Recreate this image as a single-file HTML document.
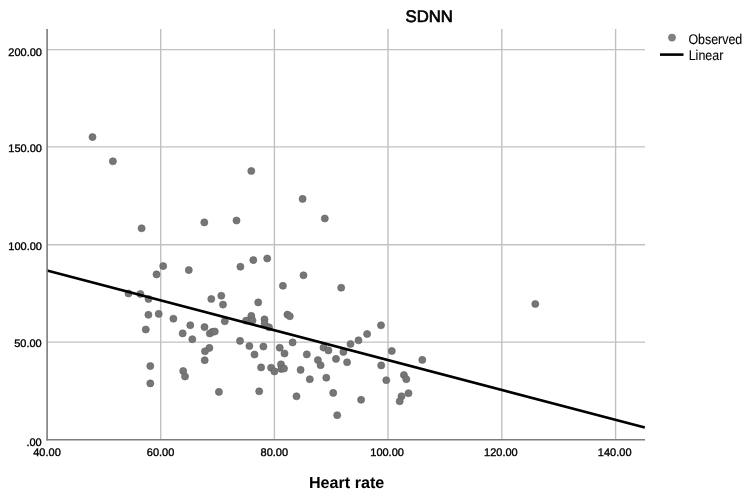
<!DOCTYPE html>
<html><head><meta charset="utf-8"><title>SDNN</title>
<style>html,body{margin:0;padding:0;background:#fff}svg{display:block;text-rendering:geometricPrecision}text{font-family:"Liberation Sans",sans-serif;fill:#000}</style></head><body>
<svg width="750" height="496" viewBox="0 0 750 496">
<rect width="750" height="496" fill="#fff"/>
<g stroke="#c1c1c1" stroke-width="1.4" fill="none">
<line x1="160.7" y1="29" x2="160.7" y2="439.7"/><line x1="274.4" y1="29" x2="274.4" y2="439.7"/><line x1="388.0" y1="29" x2="388.0" y2="439.7"/><line x1="501.8" y1="29" x2="501.8" y2="439.7"/><line x1="615.6" y1="29" x2="615.6" y2="439.7"/><line x1="47" y1="49.6" x2="645" y2="49.6"/><line x1="47" y1="146.9" x2="645" y2="146.9"/><line x1="47" y1="244.8" x2="645" y2="244.8"/><line x1="47" y1="342.1" x2="645" y2="342.1"/>
</g>
<g fill="#767676" stroke="#636363" stroke-width="0.6">
<circle cx="92.5" cy="137.1" r="3.55"/><circle cx="112.9" cy="161.3" r="3.55"/><circle cx="141.6" cy="228.3" r="3.55"/><circle cx="204.3" cy="222.4" r="3.55"/><circle cx="236.5" cy="220.5" r="3.55"/><circle cx="163.2" cy="266.1" r="3.55"/><circle cx="156.5" cy="274.4" r="3.55"/><circle cx="188.8" cy="270.1" r="3.55"/><circle cx="240.4" cy="266.7" r="3.55"/><circle cx="253.3" cy="260.1" r="3.55"/><circle cx="267.2" cy="258.5" r="3.55"/><circle cx="128.5" cy="293.5" r="3.55"/><circle cx="140.4" cy="294.0" r="3.55"/><circle cx="148.5" cy="299.0" r="3.55"/><circle cx="211.3" cy="299.0" r="3.55"/><circle cx="221.3" cy="295.7" r="3.55"/><circle cx="223.0" cy="304.6" r="3.55"/><circle cx="258.2" cy="302.4" r="3.55"/><circle cx="148.4" cy="314.8" r="3.55"/><circle cx="158.7" cy="313.9" r="3.55"/><circle cx="173.4" cy="318.7" r="3.55"/><circle cx="145.8" cy="329.5" r="3.55"/><circle cx="190.3" cy="325.2" r="3.55"/><circle cx="182.7" cy="333.4" r="3.55"/><circle cx="192.3" cy="339.2" r="3.55"/><circle cx="204.5" cy="327.1" r="3.55"/><circle cx="209.8" cy="333.5" r="3.55"/><circle cx="212.3" cy="331.9" r="3.55"/><circle cx="214.8" cy="331.5" r="3.55"/><circle cx="224.8" cy="321.3" r="3.55"/><circle cx="240.0" cy="340.9" r="3.55"/><circle cx="209.4" cy="347.9" r="3.55"/><circle cx="205.0" cy="351.3" r="3.55"/><circle cx="204.7" cy="360.2" r="3.55"/><circle cx="150.3" cy="366.1" r="3.55"/><circle cx="183.2" cy="371.0" r="3.55"/><circle cx="185.0" cy="376.5" r="3.55"/><circle cx="150.3" cy="383.4" r="3.55"/><circle cx="218.9" cy="391.9" r="3.55"/><circle cx="251.3" cy="171.0" r="3.55"/><circle cx="302.6" cy="198.9" r="3.55"/><circle cx="324.8" cy="218.5" r="3.55"/><circle cx="303.5" cy="275.3" r="3.55"/><circle cx="282.9" cy="285.8" r="3.55"/><circle cx="341.2" cy="287.7" r="3.55"/><circle cx="287.4" cy="314.6" r="3.55"/><circle cx="289.8" cy="316.2" r="3.55"/><circle cx="251.3" cy="315.9" r="3.55"/><circle cx="246.1" cy="320.6" r="3.55"/><circle cx="252.5" cy="320.4" r="3.55"/><circle cx="264.5" cy="319.4" r="3.55"/><circle cx="264.6" cy="323.5" r="3.55"/><circle cx="269.0" cy="327.3" r="3.55"/><circle cx="249.4" cy="346.0" r="3.55"/><circle cx="254.5" cy="354.5" r="3.55"/><circle cx="263.4" cy="346.5" r="3.55"/><circle cx="279.7" cy="347.7" r="3.55"/><circle cx="284.5" cy="353.5" r="3.55"/><circle cx="292.6" cy="342.4" r="3.55"/><circle cx="306.8" cy="354.4" r="3.55"/><circle cx="261.1" cy="367.4" r="3.55"/><circle cx="271.1" cy="367.7" r="3.55"/><circle cx="274.4" cy="371.4" r="3.55"/><circle cx="281.0" cy="364.4" r="3.55"/><circle cx="281.3" cy="369.0" r="3.55"/><circle cx="284.0" cy="368.5" r="3.55"/><circle cx="300.6" cy="369.9" r="3.55"/><circle cx="317.9" cy="360.1" r="3.55"/><circle cx="320.6" cy="365.2" r="3.55"/><circle cx="323.5" cy="347.6" r="3.55"/><circle cx="328.4" cy="350.4" r="3.55"/><circle cx="336.0" cy="358.9" r="3.55"/><circle cx="343.4" cy="351.9" r="3.55"/><circle cx="350.5" cy="344.0" r="3.55"/><circle cx="347.1" cy="362.3" r="3.55"/><circle cx="309.8" cy="379.2" r="3.55"/><circle cx="326.3" cy="377.7" r="3.55"/><circle cx="259.2" cy="391.3" r="3.55"/><circle cx="296.5" cy="396.3" r="3.55"/><circle cx="333.2" cy="392.9" r="3.55"/><circle cx="337.2" cy="415.2" r="3.55"/><circle cx="381.0" cy="325.3" r="3.55"/><circle cx="367.1" cy="334.0" r="3.55"/><circle cx="358.5" cy="340.3" r="3.55"/><circle cx="391.8" cy="351.0" r="3.55"/><circle cx="381.2" cy="365.4" r="3.55"/><circle cx="422.3" cy="359.9" r="3.55"/><circle cx="386.3" cy="380.2" r="3.55"/><circle cx="403.9" cy="375.0" r="3.55"/><circle cx="406.3" cy="379.2" r="3.55"/><circle cx="408.5" cy="393.2" r="3.55"/><circle cx="401.5" cy="396.3" r="3.55"/><circle cx="399.7" cy="401.3" r="3.55"/><circle cx="361.1" cy="399.8" r="3.55"/><circle cx="535.3" cy="304.0" r="3.55"/>
</g>
<line x1="47" y1="270.5" x2="644.8" y2="427.6" stroke="#000" stroke-width="2.6"/>
<g stroke="#7c7c7c" stroke-width="1.6" fill="none"><line x1="47.1" y1="29" x2="47.1" y2="440.5"/><line x1="46.3" y1="439.7" x2="645" y2="439.7"/></g>
<g font-size="11" text-anchor="middle" stroke="#000" stroke-width="0.35">
<text x="47.0" y="456.3">40.00</text><text x="160.6" y="456.3">60.00</text><text x="274.3" y="456.3">80.00</text><text x="387.1" y="456.3">100.00</text><text x="500.9" y="456.3">120.00</text><text x="614.7" y="456.3">140.00</text>
</g>
<g font-size="11" text-anchor="end" stroke="#000" stroke-width="0.35">
<text x="42.0" y="55.8">200.00</text><text x="42.0" y="152.1">150.00</text><text x="42.0" y="250.3">100.00</text><text x="41.7" y="347.4">50.00</text><text x="41.7" y="445.6">.00</text>
</g>
<text x="429.2" y="21.6" font-size="16.7" text-anchor="middle" stroke="#000" stroke-width="0.7">SDNN</text>
<text x="346.6" y="487.9" font-size="16.15" font-weight="bold" text-anchor="middle">Heart rate</text>
<circle cx="672" cy="37.6" r="3.6" fill="#808080" stroke="#707070" stroke-width="0.6"/>
<line x1="660" y1="54.6" x2="683.5" y2="54.6" stroke="#000" stroke-width="2.6"/>
<text x="688.4" y="44.1" font-size="14" textLength="53.9" lengthAdjust="spacingAndGlyphs" stroke="#000" stroke-width="0.1">Observed</text>
<text x="688.7" y="60.4" font-size="14" textLength="34.6" lengthAdjust="spacingAndGlyphs" stroke="#000" stroke-width="0.1">Linear</text>
</svg>
</body></html>
